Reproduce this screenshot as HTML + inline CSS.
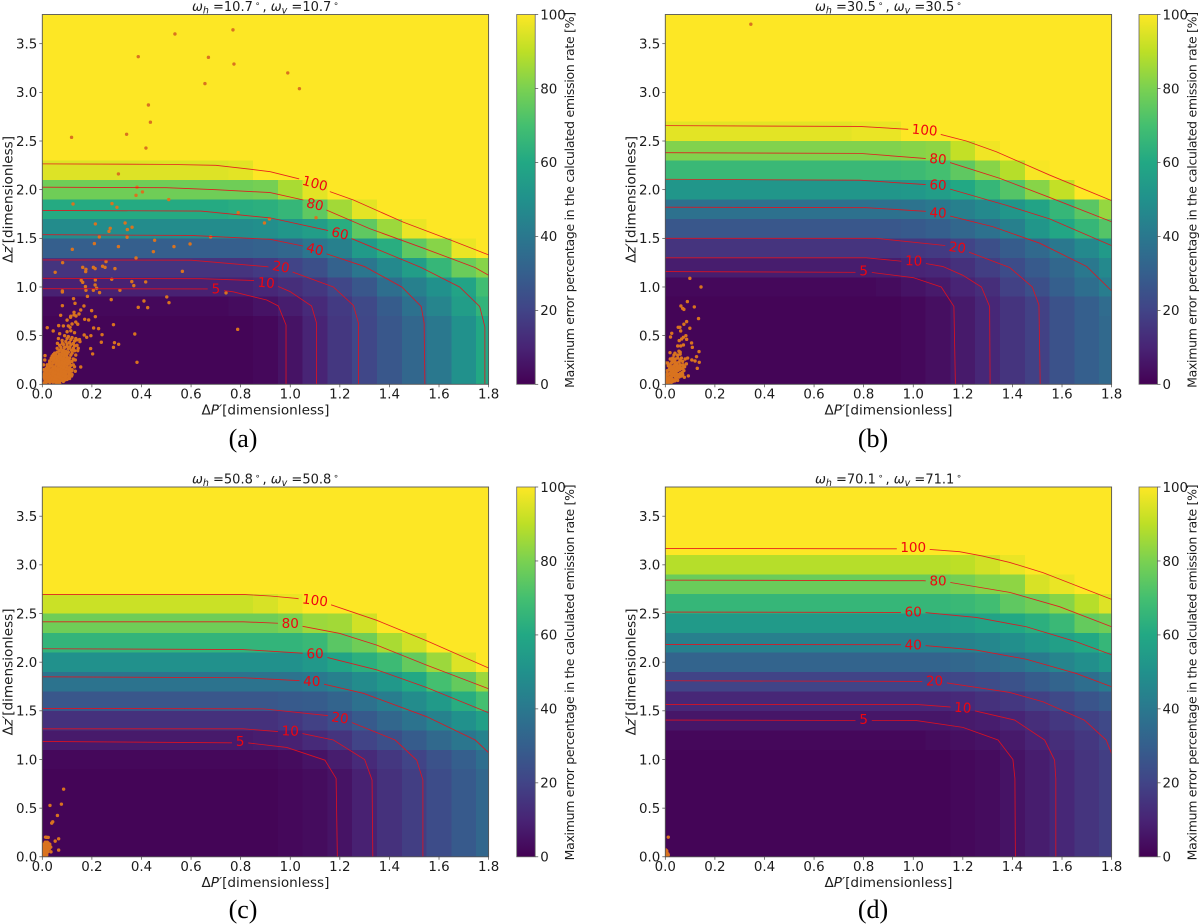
<!DOCTYPE html>
<html lang="en">
<head>
<meta charset="utf-8">
<title>Maximum error percentage maps</title>
<style>
html,body{margin:0;padding:0;background:#fff;width:1201px;height:924px;overflow:hidden}
svg{display:block}
text{font-family:"DejaVu Sans","Liberation Sans",sans-serif;fill:#1c1c1c}
</style>
</head>
<body>
<svg id="figure" xmlns="http://www.w3.org/2000/svg" width="1201" height="924" viewBox="0 0 1201 924"></svg>
<script>
const xTicks = [0, 0.2, 0.4, 0.6, 0.8, 1.0, 1.2, 1.4, 1.6, 1.8];
const yTicks = [0, 0.5, 1.0, 1.5, 2.0, 2.5, 3.0, 3.5];
const colorbarTicks = [0, 20, 40, 60, 80, 100];
const viridisStops = ['#440154','#482475','#414487','#355f8d','#2a788e','#21918c','#22a884','#44bf70','#7ad151','#bddf26','#fde725'];

/* Heatmap values [%]: rows y = 0, 0.2, 0.4 ...; columns x = 0, 0.1 ... 1.8. Rows not listed are 100. */
const heatA = [
[1,1,1,1,1,1,1,1,1,2,5,10,16,21,27,33,40,50,60],
[1,1,1,1,1,1,1,1,1,2,5,10,16,21,27,33,40,50,60],
[1,1,1,1,1,1,1,1,1,2,5,10,16,21,27,33,40,50,60],
[1,1,1,1,1,1,1,1,1,2,5,10,16,21,27,33,40,50,60],
[2,2,2,2,2,2,2,2,3,5,8,12,17,22,29,37,45,55,65],
[9,9,9,9,9,9,9,9,9,11,13,16,21,27,36,43,50,58,69],
[15,15,15,15,15,15,15,15,15,17,20,24,31,39,47,55,66,77,82],
[30,30,30,30,30,30,30,30,30,31,33,39,43,54,62,75,82,97,100],
[48,48,48,48,48,48,48,48,48,49,52,55,62,75,85,97,100,100,100],
[61,61,61,61,61,61,61,61,62,63,66,75,86,96,100,100,100,100,100],
[78,78,78,78,78,78,78,78,78,79,87,96,100,100,100,100,100,100,100],
[95,95,95,95,95,95,95,95,96,100,100,100,100,100,100,100,100,100,100]
];
const heatB = [
[1,1,1,1,1,1,1,1,1,1,2,4,7,11,15,19,25,30,34],
[1,1,1,1,1,1,1,1,1,1,2,4,7,11,15,19,25,30,34],
[1,1,1,1,1,1,1,1,1,1,2,4,7,11,15,19,25,30,34],
[1,1,1,1,1,1,1,1,1,1,2,4,7,11,15,19,25,30,34],
[1,1,1,1,1,1,1,1,1,1,2,4,7,11,15,19,25,30,35],
[2,2,2,2,2,2,2,2,2,3,5,7,10,13,19,24,30,36,42],
[8,8,8,8,8,8,8,8,8,8,10,11,14,18,23,28,33,40,47],
[15,15,15,15,15,15,15,15,15,15,16,17,20,24,29,34,40,47,54],
[27,27,27,27,27,27,27,27,27,27,28,30,33,37,43,52,59,66,73],
[37,37,37,37,37,37,37,37,37,37,38,40,43,47,52,58,66,74,84],
[52,52,52,52,52,52,52,52,52,52,53,55,60,66,73,82,91,100,100],
[67,67,67,67,67,67,67,67,67,67,68,70,75,82,89,99,100,100,100],
[81,81,81,81,81,81,81,81,81,81,82,83,91,98,100,100,100,100,100],
[96,96,96,96,96,96,96,96,97,97,100,100,100,100,100,100,100,100,100]
];
const heatC = [
[1,1,1,1,1,1,1,1,1,1,2,3,5,9,14,18,23,28,33],
[1,1,1,1,1,1,1,1,1,1,2,3,5,9,14,18,23,28,33],
[1,1,1,1,1,1,1,1,1,1,2,3,5,9,14,18,23,28,33],
[1,1,1,1,1,1,1,1,1,1,2,3,5,9,14,18,23,28,33],
[1,1,1,1,1,1,1,1,1,1,2,3,5,9,14,18,23,28,33],
[2,2,2,2,2,2,2,2,2,2,3,5,8,12,16,20,25,30,36],
[7,7,7,7,7,7,7,7,7,8,9,12,15,20,24,29,34,39,44],
[14,14,14,14,14,14,14,14,14,14,16,19,23,28,33,38,44,50,56],
[27,27,27,27,27,27,27,27,27,27,28,29,32,37,42,48,54,62,70],
[38,38,38,38,38,38,38,38,38,38,38,40,43,48,53,60,70,76,85],
[50,50,50,50,50,50,50,50,50,50,50,53,58,63,68,76,85,95,100],
[65,65,65,65,65,65,65,65,65,65,65,67,74,78,87,93,100,100,100],
[78,78,78,78,78,78,78,78,78,78,80,85,86,93,100,100,100,100,100],
[92,92,92,92,92,92,92,92,92,94,97,100,100,100,100,100,100,100,100]
];
const heatD = [
[1,1,1,1,1,1,1,1,1,1,1,1,2,3,5,8,11,15,18],
[1,1,1,1,1,1,1,1,1,1,1,1,2,3,5,8,11,15,18],
[1,1,1,1,1,1,1,1,1,1,1,1,2,3,5,8,11,15,18],
[1,1,1,1,1,1,1,1,1,1,1,1,2,3,5,8,11,15,18],
[1,1,1,1,1,1,1,1,1,1,1,1,2,3,5,8,11,15,18],
[1,1,1,1,1,1,1,1,1,1,1,1,2,3,5,8,11,15,18],
[2,2,2,2,2,2,2,2,2,2,2,3,4,5,7,10,13,16,20],
[6,6,6,6,6,6,6,6,6,6,6,6,7,8,10,13,16,19,22],
[11,11,11,11,11,11,11,11,11,11,11,11,12,14,16,19,22,26,29],
[20,20,20,20,20,20,20,20,20,20,20,20,21,23,25,29,32,36,41],
[32,32,32,32,32,32,32,32,32,32,32,32,33,35,37,41,45,49,54],
[43,43,43,43,43,43,43,43,43,43,43,43,44,46,49,53,56,60,66],
[54,54,54,54,54,54,54,54,54,54,54,54,55,58,60,63,67,76,78],
[66,66,66,66,66,66,66,66,66,66,66,66,67,69,75,78,82,89,95],
[77,77,77,77,77,77,77,77,77,77,77,77,79,82,83,94,97,100,100],
[89,89,89,89,89,89,89,89,89,89,89,89,90,93,97,100,100,100,100]
];

/* Contour levels and points [x, y] in data units */
const contourLevels = [100, 80, 60, 40, 20, 10, 5];
const contoursA = [
[[0,2.265],[0.5,2.26],[0.7,2.25],[0.838,2.21],[0.919,2.185],[1.053,2.10],[1.16,1.98],[1.255,1.894],[1.457,1.665],[1.645,1.484],[1.8,1.33]],
[[0,2.025],[0.5,2.02],[0.7,2.0],[0.919,1.97],[1.053,1.894],[1.147,1.79],[1.32,1.60],[1.536,1.40],[1.745,1.20],[1.8,1.12]],
[[0,1.787],[0.64,1.78],[0.919,1.71],[1.16,1.576],[1.245,1.50],[1.528,1.20],[1.683,1.00],[1.764,0.80],[1.785,0.59],[1.785,0]],
[[0,1.537],[0.6,1.53],[0.919,1.49],[1.053,1.42],[1.147,1.34],[1.30,1.21],[1.45,1.00],[1.528,0.80],[1.54,0.63],[1.543,0]],
[[0,1.278],[0.6,1.275],[0.905,1.209],[1.006,1.157],[1.174,1.00],[1.255,0.81],[1.275,0.63],[1.275,0]],
[[0,1.089],[0.64,1.085],[0.865,1.065],[0.946,1.011],[0.999,0.953],[1.086,0.805],[1.106,0.63],[1.106,0]],
[[0,0.983],[0.68,0.98],[0.77,0.95],[0.905,0.866],[0.952,0.805],[0.983,0.61],[0.983,0]]
];
const contoursB = [
[[0,2.658],[0.784,2.65],[0.98,2.62],[1.107,2.57],[1.214,2.50],[1.335,2.39],[1.55,2.15],[1.8,1.887]],
[[0,2.38],[0.784,2.373],[1.053,2.32],[1.147,2.28],[1.348,2.117],[1.55,1.92],[1.8,1.67]],
[[0,2.107],[0.784,2.097],[1.066,2.05],[1.147,2.007],[1.375,1.84],[1.55,1.70],[1.8,1.425]],
[[0,1.82],[0.81,1.815],[1.066,1.775],[1.147,1.73],[1.32,1.62],[1.51,1.45],[1.70,1.21],[1.8,0.96]],
[[0,1.50],[0.85,1.50],[1.133,1.425],[1.227,1.356],[1.389,1.20],[1.48,1.00],[1.507,0.815],[1.512,0]],
[[0,1.30],[0.81,1.30],[1.053,1.24],[1.12,1.21],[1.20,1.12],[1.275,1.00],[1.308,0.80],[1.31,0]],
[[0,1.158],[0.83,1.15],[1.0,1.096],[1.113,1.00],[1.164,0.80],[1.17,0]]
];
const contoursC = [
[[0,2.696],[0.81,2.696],[0.92,2.68],[1.026,2.655],[1.168,2.587],[1.349,2.43],[1.55,2.22],[1.8,1.94]],
[[0,2.415],[0.81,2.415],[0.952,2.40],[1.047,2.37],[1.20,2.295],[1.349,2.175],[1.55,1.97],[1.8,1.727]],
[[0,2.138],[0.81,2.13],[1.067,2.09],[1.147,2.05],[1.35,1.92],[1.55,1.74],[1.8,1.48]],
[[0,1.85],[0.81,1.84],[1.04,1.81],[1.134,1.775],[1.295,1.68],[1.55,1.44],[1.746,1.20],[1.8,1.07]],
[[0,1.525],[0.892,1.52],[1.154,1.45],[1.248,1.38],[1.423,1.20],[1.51,0.993],[1.535,0.79],[1.535,0]],
[[0,1.315],[0.81,1.315],[1.047,1.268],[1.174,1.20],[1.30,1.00],[1.33,0.79],[1.333,0]],
[[0,1.185],[0.83,1.17],[0.986,1.124],[1.14,0.993],[1.185,0.805],[1.19,0]]
];
const contoursD = [
[[0,3.169],[0.95,3.165],[1.066,3.158],[1.187,3.135],[1.28,3.09],[1.389,3.025],[1.523,2.92],[1.8,2.645]],
[[0,2.843],[1.04,2.837],[1.147,2.82],[1.389,2.717],[1.59,2.57],[1.8,2.364]],
[[0,2.515],[0.945,2.511],[1.053,2.508],[1.254,2.46],[1.456,2.364],[1.657,2.21],[1.8,2.076]],
[[0,2.182],[0.95,2.18],[1.053,2.169],[1.254,2.124],[1.456,2.03],[1.657,1.884],[1.8,1.747]],
[[0,1.809],[1.04,1.802],[1.133,1.788],[1.389,1.689],[1.523,1.593],[1.69,1.405],[1.778,1.20],[1.8,1.062]],
[[0,1.566],[1.013,1.566],[1.147,1.54],[1.248,1.50],[1.409,1.405],[1.53,1.20],[1.57,0.993],[1.575,0.805],[1.575,0]],
[[0,1.405],[1.013,1.40],[1.20,1.33],[1.342,1.20],[1.402,1.0],[1.41,0.805],[1.412,0]]
];

/* Contour label anchors: [x, y, rotation in degrees], same order as contourLevels */
const labelsA = [[1.10,2.066,15],[1.10,1.85,13],[1.201,1.552,13],[1.10,1.39,14],[0.963,1.209,10],[0.903,1.045,5],[0.70,0.98,0]];
const labelsB = [[1.046,2.614,5],[1.10,2.316,5],[1.10,2.05,3],[1.10,1.764,3],[1.178,1.408,8],[1.002,1.271,2],[0.80,1.165,0]];
const labelsC = [[1.10,2.638,7],[1.0,2.398,0],[1.10,2.09,-2],[1.087,1.805,1],[1.201,1.429,8],[1.0,1.295,2],[0.798,1.189,0]];
const labelsD = [[1.0,3.179,0],[1.10,2.837,0],[1.0,2.518,0],[1.0,2.182,0],[1.086,1.809,0],[1.20,1.535,4],[0.80,1.415,0]];

/* Scatter observations [x, y] */
const pointsA = [
[0.535,3.6],[0.769,3.642],[0.387,3.367],[0.67,3.36],[0.773,3.291],[0.99,3.2],[1.037,3.038],[0.656,3.09],[0.428,2.87],[0.436,2.693],[0.34,2.569],[0.118,2.538],[0.418,2.428],
[0.307,2.162],[0.382,2.025],[0.404,1.977],[0.378,1.942],[0.51,1.898],[0.124,1.853],[0.281,1.857],[0.301,1.819],[0.79,1.764],[0.896,1.658],[0.916,1.699],[0.214,1.648],[0.334,1.658],[0.274,1.603],[0.269,1.572],[0.362,1.614],[0.343,1.59],[0.23,1.514],[0.342,1.511],[0.453,1.48],[0.21,1.446],[0.307,1.415],[0.531,1.415],[0.596,1.442],[0.121,1.387],[0.448,1.363],[0.378,1.298],[0.679,1.514],[1.104,1.712],
[0.082,1.25],[0.257,1.261],[0.163,1.202],[0.206,1.202],[0.213,1.189],[0.243,1.213],[0.253,1.202],[0.293,1.189],[0.176,1.182],[0.175,1.158],[0.052,1.151],[0.565,1.161],[0.157,1.069],[0.163,1.048],[0.214,1.072],[0.28,1.079],[0.361,1.055],[0.417,1.052],[0.369,1.014],[0.174,1.004],[0.213,1.021],[0.219,0.987],[0.081,0.959],[0.081,0.949],[0.176,0.966],[0.206,0.966],[0.313,0.966],[0.231,0.942],[0.741,0.939],[0.182,0.904],[0.502,0.898],[0.511,0.839],[0.126,0.88],[0.278,0.87],[0.41,0.856],[0.132,0.832],[0.387,0.791],[0.425,0.788],[0.081,0.808],[0.168,0.805],[0.155,0.764],[0.199,0.757],[0.128,0.74],[0.214,0.695],[0.074,0.709],[0.114,0.689],[0.128,0.713],[0.136,0.702],[0.148,0.723],[0.171,0.668],[0.187,0.661],[0.287,0.613],[0.207,0.579],[0.227,0.572],[0.788,0.565],[0.373,0.517],[0.02,0.582],[0.044,0.548],[0.066,0.603],[0.085,0.6],[0.112,0.586],[0.143,0.617],[0.169,0.507],[0.179,0.483],[0.196,0.5],[0.241,0.51],[0.238,0.432],[0.291,0.428],[0.308,0.411],[0.287,0.38],[0.195,0.367],[0.203,0.312],[0.382,0.226],[0.139,0.456],[0.152,0.439],[0.143,0.346],[0.133,0.25],[0.155,0.178],[0.133,0.134],[0.011,0.295],[0.061,0.421],[0.081,0.421],
[0.005,0.01],[0.01,0.02],[0.015,0.01],[0.02,0.03],[0.03,0.02],[0.01,0.05],[0.02,0.06],[0.03,0.05],[0.04,0.04],[0.05,0.03],[0.06,0.02],[0.07,0.01],[0.005,0.08],[0.015,0.09],[0.025,0.1],[0.035,0.08],[0.045,0.07],[0.055,0.06],[0.065,0.05],[0.075,0.04],[0.085,0.03],[0.01,0.12],[0.02,0.13],[0.03,0.12],[0.04,0.11],[0.05,0.1],[0.06,0.09],[0.07,0.08],[0.08,0.07],[0.09,0.06],[0.1,0.05],[0.015,0.16],[0.025,0.17],[0.035,0.15],[0.045,0.14],[0.055,0.13],[0.065,0.12],[0.075,0.11],[0.085,0.1],[0.095,0.09],[0.105,0.08],[0.02,0.2],[0.03,0.21],[0.04,0.19],[0.05,0.18],[0.06,0.17],[0.07,0.16],[0.08,0.15],[0.09,0.14],[0.1,0.13],[0.11,0.12],[0.12,0.1],[0.03,0.24],[0.04,0.25],[0.05,0.23],[0.06,0.22],[0.07,0.21],[0.08,0.2],[0.09,0.19],[0.1,0.18],[0.11,0.17],[0.12,0.15],[0.04,0.29],[0.05,0.28],[0.06,0.27],[0.07,0.26],[0.08,0.25],[0.09,0.24],[0.1,0.23],[0.11,0.22],[0.125,0.2],[0.05,0.32],[0.06,0.33],[0.07,0.31],[0.08,0.3],[0.09,0.29],[0.1,0.28],[0.11,0.27],[0.125,0.26],[0.06,0.37],[0.075,0.36],[0.085,0.35],[0.095,0.34],[0.105,0.33],[0.12,0.32],[0.135,0.3],[0.07,0.4],[0.085,0.41],[0.1,0.39],[0.11,0.38],[0.125,0.37],[0.08,0.45],[0.095,0.44],[0.11,0.43],[0.125,0.42],[0.14,0.4],[0.09,0.5],[0.105,0.49],[0.12,0.48],[0.135,0.47],[0.15,0.46],[0.07,0.52],[0.1,0.54],[0.115,0.55],[0.13,0.53],[0.105,0.6],[0.12,0.62],[0.135,0.64],[0.1,0.66],[0.115,0.7],[0.005,0.15],[0.005,0.2],[0.01,0.25],
[0.012,0.035],[0.022,0.042],[0.033,0.033],[0.043,0.022],[0.055,0.015],[0.008,0.07],[0.018,0.078],[0.028,0.072],[0.038,0.062],[0.048,0.052],[0.058,0.044],[0.068,0.032],[0.008,0.105],[0.02,0.098],[0.03,0.09],[0.042,0.095],[0.052,0.083],[0.062,0.074],[0.072,0.066],[0.082,0.055],[0.092,0.045],[0.012,0.14],[0.022,0.15],[0.032,0.14],[0.043,0.125],[0.054,0.115],[0.064,0.105],[0.074,0.095],[0.084,0.085],[0.094,0.075],[0.11,0.06],[0.02,0.178],[0.032,0.185],[0.043,0.17],[0.054,0.158],[0.064,0.148],[0.075,0.135],[0.086,0.125],[0.096,0.115],[0.108,0.1],[0.118,0.085],[0.03,0.225],[0.042,0.218],[0.055,0.205],[0.066,0.192],[0.076,0.18],[0.086,0.17],[0.097,0.16],[0.107,0.15],[0.118,0.135],[0.036,0.268],[0.047,0.258],[0.058,0.248],[0.068,0.236],[0.079,0.225],[0.09,0.215],[0.102,0.205],[0.115,0.195],[0.13,0.18],[0.045,0.305],[0.055,0.3],[0.066,0.29],[0.076,0.278],[0.086,0.268],[0.097,0.258],[0.108,0.248],[0.12,0.235],[0.068,0.345],[0.08,0.33],[0.09,0.32],[0.1,0.31],[0.115,0.3],[0.075,0.38],[0.09,0.38],[0.105,0.365],[0.118,0.35],[0.13,0.345],[0.1,0.415],[0.115,0.405],[0.13,0.395],[0.145,0.37],[0.065,0.47],[0.1,0.47],[0.115,0.46],[0.13,0.445],[0.045,0.27],[0.02,0.1]
];
const pointsB = [
[0.345,3.7],[0.099,1.089],[0.144,1.0],[0.089,0.85],[0.063,0.805],[0.07,0.78],[0.075,0.77],[0.117,0.795],[0.134,0.675],[0.086,0.644],[0.075,0.617],[0.052,0.586],[0.059,0.586],[0.099,0.576],[0.062,0.548],[0.026,0.524],[0.021,0.486],[0.083,0.5],[0.073,0.483],[0.066,0.466],[0.056,0.449],[0.086,0.462],[0.106,0.425],[0.109,0.38],[0.05,0.394],[0.062,0.394],[0.073,0.404],[0.136,0.336],[0.126,0.284],[0.107,0.25],[0.12,0.24],[0.137,0.226],[0.129,0.164],[0.093,0.086],[0.077,0.072],[0.039,0.319],[0.019,0.325],
[0.003,0.01],[0.008,0.02],[0.012,0.01],[0.018,0.03],[0.024,0.02],[0.03,0.03],[0.005,0.05],[0.011,0.06],[0.017,0.07],[0.023,0.06],[0.029,0.05],[0.035,0.04],[0.041,0.05],[0.047,0.06],[0.005,0.09],[0.012,0.1],[0.019,0.11],[0.026,0.1],[0.033,0.09],[0.04,0.08],[0.047,0.09],[0.054,0.1],[0.061,0.11],[0.068,0.12],[0.008,0.14],[0.015,0.15],[0.022,0.14],[0.029,0.13],[0.036,0.12],[0.043,0.13],[0.05,0.14],[0.057,0.15],[0.064,0.16],[0.071,0.17],[0.078,0.18],[0.012,0.19],[0.019,0.2],[0.026,0.18],[0.033,0.17],[0.04,0.16],[0.047,0.18],[0.054,0.19],[0.061,0.2],[0.085,0.21],[0.003,0.22],[0.01,0.22],[0.025,0.22],[0.032,0.23],[0.04,0.21],[0.048,0.22],[0.056,0.23],[0.02,0.26],[0.03,0.27],[0.04,0.26],[0.05,0.27],[0.06,0.25],[0.065,0.27],[0.08,0.26],[0.09,0.27],[0.035,0.3],[0.05,0.3],[0.06,0.31],[0.055,0.34],[0.06,0.33],
[0.015,0.045],[0.027,0.04],[0.038,0.035],[0.05,0.04],[0.056,0.075],[0.045,0.105],[0.035,0.105],[0.025,0.08],[0.065,0.085],[0.07,0.1],[0.03,0.15],[0.042,0.145],[0.052,0.165],[0.06,0.17],[0.025,0.165],[0.035,0.19],[0.045,0.2],[0.018,0.165],[0.008,0.11],[0.003,0.06],[0.005,0.03],[0.075,0.14],[0.072,0.2],[0.028,0.245],[0.038,0.24],[0.07,0.235]
];
const pointsC = [
[0.086,0.695],[0.031,0.528],[0.077,0.541],[0.061,0.425],[0.042,0.36],[0.038,0.346],[0.013,0.202],[0.024,0.199],[0.066,0.185],[0.052,0.161],[0.066,0.069],[0.035,0.051],[0.018,0.2],
[0.003,0.01],[0.008,0.02],[0.013,0.01],[0.018,0.02],[0.004,0.04],[0.01,0.05],[0.016,0.04],[0.022,0.05],[0.004,0.07],[0.01,0.08],[0.016,0.07],[0.022,0.08],[0.028,0.08],[0.004,0.1],[0.01,0.11],[0.016,0.1],[0.022,0.11],[0.028,0.11],[0.034,0.1],[0.005,0.13],[0.012,0.14],[0.018,0.13],[0.024,0.14],[0.03,0.13],[0.012,0.15],[0.02,0.15]
];
const pointsD = [
[0.012,0.202],[0.002,0.01],[0.006,0.01],[0.01,0.015],[0.002,0.03],[0.006,0.035],[0.01,0.03],[0.003,0.05],[0.006,0.06],[0.002,0.07],[0.012,0.02]
];

/* Panel titles, captions and data links */
const panelTitles = [['10.7','10.7'],['30.5','30.5'],['50.8','50.8'],['70.1','71.1']];
const panelCaptions = ['(a)','(b)','(c)','(d)'];
const panelHeat = [heatA, heatB, heatC, heatD];
const panelContours = [contoursA, contoursB, contoursC, contoursD];
const panelLabels = [labelsA, labelsB, labelsC, labelsD];
const panelPoints = [pointsA, pointsB, pointsC, pointsD];

const svgNS = 'http://www.w3.org/2000/svg';
const fig = document.getElementById('figure');
const X_MAX = 1.8, Y_MAX = 3.8, AX_W = 446.3, AX_H = 369.8, CB_W = 18.5;
const layouts = [
  {left:42.3, top:14.5, cbLeft:516.7, capX:243, capY:447},
  {left:665.3, top:14.5, cbLeft:1139, capX:873, capY:447},
  {left:42.3, top:487, cbLeft:516.7, capX:243, capY:918},
  {left:665.3, top:487, cbLeft:1139, capX:873, capY:918}
];

function mk(parent, tag, attrs, text) {
  const el = document.createElementNS(svgNS, tag);
  for (const k in attrs) el.setAttribute(k, attrs[k]);
  if (text !== undefined) el.textContent = text;
  parent.appendChild(el);
  return el;
}
function hexToRgb(h) {
  return [parseInt(h.slice(1,3),16), parseInt(h.slice(3,5),16), parseInt(h.slice(5,7),16)];
}
function viridis(v) {
  const t = Math.max(0, Math.min(1, v / 100)) * (viridisStops.length - 1);
  const i = Math.min(Math.floor(t), viridisStops.length - 2);
  const a = hexToRgb(viridisStops[i]), b = hexToRgb(viridisStops[i + 1]), f = t - i;
  return 'rgb(' + a.map((c, n) => Math.round(c + (b[n] - c) * f)).join(',') + ')';
}

const defs = mk(fig, 'defs', {});
const grad = mk(defs, 'linearGradient', {id:'viridis-grad', x1:0, y1:1, x2:0, y2:0});
viridisStops.forEach((c, i) => {
  mk(grad, 'stop', {offset: i / (viridisStops.length - 1), 'stop-color': c});
});

layouts.forEach((L, p) => {
  const id = panelCaptions[p].replace(/[()]/g, '');
  const sx = v => L.left + v / X_MAX * AX_W;
  const sy = v => L.top + AX_H - v / Y_MAX * AX_H;
  const bottom = L.top + AX_H;

  const g = mk(fig, 'g', {});
  
  

  /* heatmap */
  const heat = mk(g, 'g', {'shape-rendering':'crispEdges'});
  
  
  const base = mk(heat, 'rect', {x:L.left, y:L.top, width:AX_W, height:AX_H, fill:viridis(100)});
  
  
  panelHeat[p].forEach((row, r) => {
    row.forEach((val, c) => {
      const x0 = Math.max(0, (c - 0.5) * 0.1), x1 = Math.min(X_MAX, (c + 0.5) * 0.1);
      const y0 = Math.max(0, (r - 0.5) * 0.2), y1 = Math.min(Y_MAX, (r + 0.5) * 0.2);
      const cell = mk(heat, 'rect', {x:sx(x0), y:sy(y1), width:sx(x1) - sx(x0), height:sy(y0) - sy(y1), fill:viridis(val)});
      
      
    });
  });

  /* scatter */
  const clip = mk(defs, 'clipPath', {id:'clip-' + id});
  mk(clip, 'rect', {x:L.left, y:L.top, width:AX_W, height:AX_H});
  const scat = mk(g, 'g', {'clip-path':'url(#clip-' + id + ')'});
  
  
  panelPoints[p].forEach(pt => {
    const c = mk(scat, 'circle', {cx:sx(pt[0]), cy:sy(pt[1]), r:1.7, fill:'#d9731f'});
    
    
  });

  /* contours with a gap under each label */
  const mask = mk(defs, 'mask', {id:'gap-' + id, maskUnits:'userSpaceOnUse', x:0, y:0, width:1201, height:924});
  mk(mask, 'rect', {x:0, y:0, width:1201, height:924, fill:'#fff'});
  contourLevels.forEach((lv, i) => {
    const l = panelLabels[p][i];
    const w = String(lv).length * 8.3 + 8;
    mk(mask, 'rect', {x:sx(l[0]) - w / 2, y:sy(l[1]) - 8, width:w, height:16, fill:'#000',
      transform:'rotate(' + l[2] + ' ' + sx(l[0]) + ' ' + sy(l[1]) + ')'});
  });
  const cont = mk(g, 'g', {mask:'url(#gap-' + id + ')'});
  
  
  contourLevels.forEach((lv, i) => {
    const line = mk(cont, 'polyline', {points:panelContours[p][i].map(q => sx(q[0]) + ',' + sy(q[1])).join(' '),
      fill:'none', stroke:'#e6101c', 'stroke-width':0.85, 'stroke-opacity':0.92});
    
    
  });
  contourLevels.forEach((lv, i) => {
    const l = panelLabels[p][i];
    const t = mk(g, 'text', {x:sx(l[0]), y:sy(l[1]) + 4.8, 'text-anchor':'middle', 'font-size':13.5,
      style:'fill:#f0050f', transform:'rotate(' + l[2] + ' ' + sx(l[0]) + ' ' + sy(l[1]) + ')'}, String(lv));
    
    
  });

  /* spines */
  const frame = mk(g, 'rect', {x:L.left, y:L.top, width:AX_W, height:AX_H, fill:'none', stroke:'#555', 'stroke-width':0.9});
  
  

  /* ticks */
  xTicks.forEach(v => {
    const tk = mk(g, 'line', {x1:sx(v), x2:sx(v), y1:bottom, y2:bottom + 3, stroke:'#444', 'stroke-width':0.7});
    
    
    const tl = mk(g, 'text', {x:sx(v), y:bottom + 14.4, 'text-anchor':'middle', 'font-size':13.4}, v.toFixed(1));
    
    
  });
  yTicks.forEach(v => {
    const tk = mk(g, 'line', {x1:L.left - 3, x2:L.left, y1:sy(v), y2:sy(v), stroke:'#444', 'stroke-width':0.7});
    
    
    const tl = mk(g, 'text', {x:L.left - 5, y:sy(v) + 4.8, 'text-anchor':'end', 'font-size':13.4}, v.toFixed(1));
    
    
  });

  /* axis labels and title */
  const xl = mk(g, 'text', {x:L.left + AX_W / 2, y:bottom + 30, 'text-anchor':'middle', 'font-size':13.6});
  xl.innerHTML = 'Δ<tspan font-style="italic">P′</tspan>[dimensionless]';
  
  
  const yl = mk(g, 'text', {x:0, y:0, 'text-anchor':'middle', 'font-size':13.6,
    transform:'translate(' + (L.left - 30) + ' ' + (L.top + AX_H / 2) + ') rotate(-90)'});
  yl.innerHTML = 'Δ<tspan font-style="italic">z′</tspan>[dimensionless]';
  
  
  const ti = mk(g, 'text', {x:L.left + AX_W / 2, y:L.top - 3.7, 'text-anchor':'middle', 'font-size':13});
  ti.innerHTML = '<tspan font-style="italic">ω</tspan><tspan font-style="italic" font-size="9.5" dy="2.5">h</tspan><tspan dy="-2.5"> =' + panelTitles[p][0] +
    '</tspan><tspan font-size="9" dy="-4.5" dx="2">∘</tspan><tspan dy="4.5" dx="2">, </tspan><tspan font-style="italic">ω</tspan><tspan font-style="italic" font-size="9.5" dy="2.5">v</tspan><tspan dy="-2.5"> =' +
    panelTitles[p][1] + '</tspan><tspan font-size="9" dy="-4.5" dx="2">∘</tspan>';
  
  

  /* colorbar */
  const cb = mk(g, 'rect', {x:L.cbLeft, y:L.top, width:CB_W, height:AX_H, fill:'url(#viridis-grad)', stroke:'#666', 'stroke-width':0.8});
  
  
  colorbarTicks.forEach(v => {
    const y = L.top + AX_H - v / 100 * AX_H;
    const tk = mk(g, 'line', {x1:L.cbLeft + CB_W, x2:L.cbLeft + CB_W + 3, y1:y, y2:y, stroke:'#444', 'stroke-width':0.7});
    
    
    const tl = mk(g, 'text', {x:L.cbLeft + CB_W + 5, y:y + 4.8, 'font-size':13.4}, String(v));
    
    
  });
  const cl = mk(g, 'text', {x:0, y:0, 'text-anchor':'middle', 'font-size':12.5, textLength:376,
    transform:'translate(' + (L.cbLeft + 57.5) + ' ' + (L.top + AX_H / 2 + 0.5) + ') rotate(-90)'},
    'Maximum error percentage in the calculated emission rate [%]');
  
  

  /* caption */
  const cap = mk(g, 'text', {x:L.capX, y:L.capY, 'text-anchor':'middle', 'font-size':26,
    style:'font-family:"Liberation Serif",serif;fill:#000'}, panelCaptions[p]);
  
  
});
</script>
</body>
</html>
